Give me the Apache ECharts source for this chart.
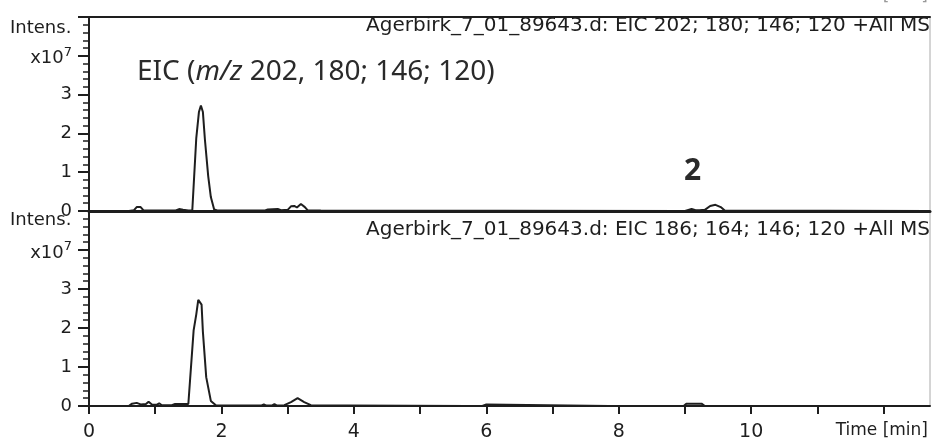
<!DOCTYPE html>
<html>
<head>
<meta charset="utf-8">
<script src="https://cdn.jsdelivr.net/npm/echarts@6/dist/echarts.min.js"></script>
<style>
html,body{margin:0;padding:0;background:#fff;}
#c{width:932px;height:444px;}
</style>
</head>
<body>
<div id="c"></div>
<script>
// ---- data (intensity in units of 1e7) ----
var topTime = [0, 0.6, 0.68, 0.72, 0.78, 0.82, 1.3, 1.36, 1.42, 1.5, 1.56, 1.62, 1.66, 1.69, 1.72, 1.75, 1.8, 1.84, 1.89, 1.95, 2.65, 2.7, 2.85, 2.9, 3.0, 3.05, 3.1, 3.14, 3.2, 3.26, 3.3, 3.5, 9.0, 9.1, 9.16, 9.22, 9.3, 9.38, 9.46, 9.54, 9.6, 12.7];
var topIntensity = [0, 0, 0.02, 0.1, 0.1, 0.02, 0.01, 0.05, 0.03, 0.01, 0.02, 1.88, 2.55, 2.72, 2.55, 1.85, 0.9, 0.36, 0.04, 0.01, 0.01, 0.04, 0.05, 0.02, 0.03, 0.12, 0.13, 0.09, 0.18, 0.1, 0.02, 0.01, 0, 0.05, 0.02, 0.02, 0.03, 0.13, 0.16, 0.1, 0.01, 0];

var botTime = [0, 0.6, 0.65, 0.72, 0.78, 0.86, 0.9, 0.95, 1.02, 1.06, 1.1, 1.25, 1.3, 1.5, 1.53, 1.58, 1.62, 1.65, 1.68, 1.7, 1.72, 1.77, 1.84, 1.92, 2.6, 2.64, 2.68, 2.76, 2.8, 2.84, 2.95, 3.05, 3.15, 3.25, 3.35, 3.5, 3.52, 3.55, 3.85, 3.87, 3.9, 5.72, 5.74, 5.76, 5.9, 5.92, 5.94, 6.0, 6.02, 7.85, 7.88, 7.91, 8.98, 9.02, 9.25, 9.3, 12.7];
var botIntensity = [0, 0, 0.06, 0.08, 0.04, 0.05, 0.11, 0.04, 0.03, 0.07, 0.02, 0.02, 0.05, 0.05, 0.08, 1.94, 2.35, 2.72, 2.74, 2.6, 1.9, 0.74, 0.13, 0.01, 0.01, 0.04, 0.01, 0.01, 0.05, 0.01, 0.02, 0.1, 0.2, 0.1, 0.02, 0.01, 0.06, 0.01, 0.01, 0.06, 0.01, 0, 0.05, 0, 0, 0.05, 0, 0.04, 0, 0, 0.05, 0, 0, 0.06, 0.06, 0, -0.03];

var yTickLabels = {0: '0', 1: '1', 2: '2', 3: '3', 4: '{a|x10}{s|7}', 5: ''};
var xTickLabels = {0: '0', 2: '2', 4: '4', 6: '6', 8: '8', 10: '10'};

var topTitle = 'Agerbirk_7_01_89643.d: EIC 202; 180; 146; 120 +All MS';
var botTitle = 'Agerbirk_7_01_89643.d: EIC 186; 164; 146; 120 +All MS';

function pairs(t, v) { return t.map(function (x, i) { return [x, v[i]]; }); }

var FONT = 'DejaVu Sans';
var INK = '#1e1e1e';

function yAxisCfg(gi) {
  return {
    gridIndex: gi, type: 'value', min: 0, max: 5, interval: 1,
    axisLine: { show: true, lineStyle: { color: INK, width: 2 } },
    axisTick: { show: true, length: 11, lineStyle: { color: INK, width: 2 } },
    minorTick: { show: true, splitNumber: 5, length: 6, lineStyle: { color: INK, width: 1.5 } },
    splitLine: { show: false },
    axisLabel: {
      margin: 17, fontFamily: FONT, fontSize: 18, color: INK,
      formatter: function (v) { return yTickLabels[v] !== undefined ? yTickLabels[v] : ''; },
      rich: {
        a: { fontFamily: FONT, fontSize: 18, color: INK, padding: [6, 0, 0, 0] },
        s: { fontFamily: FONT, fontSize: 13, color: INK, padding: [0, 0, 6, 0] }
      }
    }
  };
}

var option = {
  animation: false,
  backgroundColor: '#fff',
  grid: [
    { left: 89, right: 2, top: 17, height: 194, show: true, borderColor: '#aaa', borderWidth: 1 },
    { left: 89, right: 2, top: 211, height: 195, show: true, borderColor: '#aaa', borderWidth: 1 }
  ],
  xAxis: [
    { gridIndex: 0, type: 'value', min: 0, max: 12.7, interval: 1, position: 'bottom',
      axisLine: { show: true, onZero: false, lineStyle: { color: INK, width: 3 } },
      axisTick: { show: false }, axisLabel: { show: false }, splitLine: { show: false } },
    { gridIndex: 0, type: 'value', min: 0, max: 12.7, position: 'top',
      axisLine: { show: true, onZero: false, lineStyle: { color: INK, width: 2 } },
      axisTick: { show: false }, axisLabel: { show: false }, splitLine: { show: false } },
    { gridIndex: 1, type: 'value', min: 0, max: 12.7, interval: 1, position: 'bottom',
      axisLine: { show: true, onZero: false, lineStyle: { color: INK, width: 2 } },
      axisTick: { show: true, length: 8, lineStyle: { color: INK, width: 2 } },
      splitLine: { show: false },
      axisLabel: {
        margin: 17, fontFamily: FONT, fontSize: 19, color: INK, showMaxLabel: false,
        formatter: function (v) { return xTickLabels[v] !== undefined ? xTickLabels[v] : ''; }
      } }
  ],
  yAxis: [yAxisCfg(0), yAxisCfg(1)],
  series: [
    { type: 'line', xAxisIndex: 0, yAxisIndex: 0, data: pairs(topTime, topIntensity),
      showSymbol: false, lineStyle: { color: INK, width: 2 }, z: 5 },
    { type: 'line', xAxisIndex: 2, yAxisIndex: 1, data: pairs(botTime, botIntensity),
      showSymbol: false, lineStyle: { color: INK, width: 2 }, z: 5 }
  ],
  graphic: [
    { type: 'text', right: 2, top: 16, style: { text: topTitle, font: '20px "' + FONT + '"', fill: INK } },
    { type: 'text', right: 2, top: 220, style: { text: botTitle, font: '20px "' + FONT + '"', fill: INK } },
    { type: 'text', left: 10, top: 19, style: { text: 'Intens.', font: '18px "' + FONT + '"', fill: INK } },
    { type: 'text', left: 10, top: 211, style: { text: 'Intens.', font: '18px "' + FONT + '"', fill: INK } },
    { type: 'text', right: 4, top: 422, style: { text: 'Time [min]', font: '17px "' + FONT + '"', fill: INK } },
    { type: 'text', right: 4, top: -13, style: { text: 'Time [min]', font: '17px "' + FONT + '"', fill: '#999' } },
    { type: 'text', left: 137, top: 58, style: {
        text: '{n|EIC (}{i|m/z}{n| 202, 180; 146; 120)}',
        rich: {
          n: { fontFamily: 'Noto Sans', fontSize: 28, fill: '#2a2a2a' },
          i: { fontFamily: 'Noto Sans', fontSize: 28, fontStyle: 'italic', fill: '#2a2a2a' }
        } } },
    { type: 'text', left: 684, top: 156, style: { text: '2', font: 'bold 30px "Noto Sans"', fill: '#2a2a2a' } }
  ]
};

var chart = echarts.init(document.getElementById('c'), null, { renderer: 'canvas' });
chart.setOption(option);
</script>
</body>
</html>
